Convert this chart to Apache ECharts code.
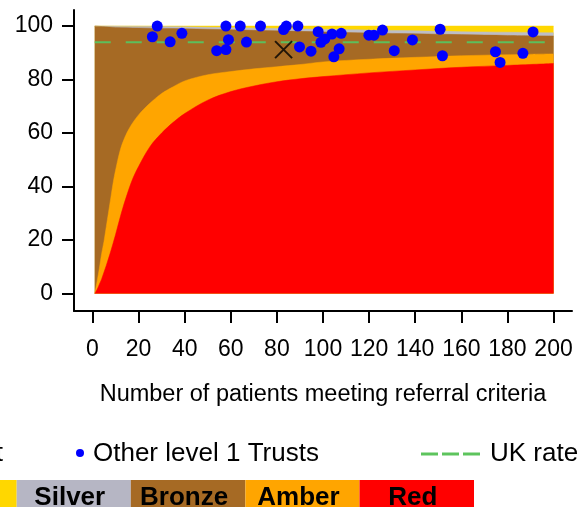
<!DOCTYPE html>
<html><head><meta charset="utf-8">
<script src="https://cdn.jsdelivr.net/npm/echarts@6/dist/echarts.min.js"></script>
<style>html,body{margin:0;padding:0;background:#fff}#c{width:579px;height:507px}</style>
</head><body><div id="c"></div>
<script>
// Axis ticks
const xTicks = [0,20,40,60,80,100,120,140,160,180,200];
const yTicks = [0,20,40,60,80,100];

// Band upper boundaries (x = number of patients, y = %)
const goldX   = [1, 200];
const goldTop = [100, 100];
const silverX   = [1, 20, 40, 60, 80, 100, 120, 140, 160, 180, 200];
const silverTop = [100, 99.9, 99.7, 99.4, 99.1, 98.8, 98.5, 98.2, 97.9, 97.7, 97.5];
const bronzeX   = [1, 10, 20, 40, 60, 80, 100, 120, 140, 160, 180, 200];
const bronzeTop = [100, 99.5, 99.3, 99.0, 98.6, 98.2, 97.8, 97.4, 97.1, 96.8, 96.5, 96.3];
const amberX   = [1, 2, 3, 4, 5, 6, 7, 8, 9, 10, 12, 14, 16, 18, 20, 22, 25, 30, 35, 40, 50, 60, 70, 80, 90, 100, 120, 140, 160, 180, 200];
const amberTop = [0, 4.5, 9.5, 15, 19.5, 25, 30.5, 36, 41.5, 46, 53.5, 58.3, 61.8, 64.5, 66.8, 68.7, 71.2, 74.8, 77.3, 79.5, 81.8, 83, 84, 84.8, 85.6, 86.6, 87.6, 88.3, 88.9, 89.3, 89.6];
const redX   = [1, 2, 3, 4, 5, 6, 8, 10, 12.5, 15, 17.5, 20, 25, 30, 35, 40, 50, 60, 70, 80, 90, 100, 120, 140, 160, 180, 200];
const redTop = [0, 1.5, 3.5, 5.5, 8, 10.5, 16, 22, 30, 37, 43, 47.5, 55, 60, 64, 67.3, 72.3, 75.5, 77.6, 79.2, 80.3, 81.1, 82.5, 83.6, 84.6, 85.3, 86];

// UK rate
const ukRate = 93.9;
const ukX = [1, 200];

// Other level 1 Trusts
const trustN = [26.0, 28.1, 33.7, 38.8, 53.9, 57.9, 57.9, 59.0, 64.1, 66.8, 72.9, 82.9, 84.1, 89.1, 89.8, 94.8, 97.9, 99.1, 100.8, 103.9, 107.9, 107.0, 104.7, 119.9, 122.1, 125.8, 130.9, 138.8, 150.8, 151.8, 174.8, 176.8, 186.7, 191.1];
const trustV = [96.0, 100.0, 94.1, 97.3, 90.8, 91.2, 100.0, 94.9, 100.0, 94.0, 100.0, 98.7, 100.0, 100.0, 92.2, 90.6, 97.9, 93.9, 95.2, 97.0, 97.3, 91.5, 88.5, 96.6, 96.6, 98.5, 90.8, 94.8, 98.8, 88.9, 90.4, 86.4, 89.8, 97.8];

// This Trust
const thisN = [82.9];
const thisV = [91.2];

// Legend labels
const bandNames = ['Gold', 'Silver', 'Bronze', 'Amber', 'Red'];
const bandColors = ['#FFD700', '#B6B6C4', '#A66A24', '#FFA500', '#FF0000'];

const zip = (xs, ys) => xs.map((x, i) => [x, ys[i]]);
const FONT = 'Liberation Sans, Arial, sans-serif';

function band(name, xs, ys, color) {
  return {
    name, type: 'line', data: zip(xs, ys), symbol: 'none', showSymbol: false, smooth: 0.35,
    lineStyle: { width: 0.5, color }, itemStyle: { color },
    areaStyle: { color, opacity: 1 }, silent: true, animation: false
  };
}

const chart = echarts.init(document.getElementById('c'), null, { renderer: 'canvas' });

const graphics = [];
// Row 1 legend
graphics.push({ type: 'text', x: 3, y: 454, style: { text: 'This Trust', font: '26px ' + FONT, fill: '#000', align: 'right', verticalAlign: 'middle' } });
graphics.push({ type: 'circle', shape: { cx: 80, cy: 453, r: 4 }, style: { fill: '#0000FF' } });
graphics.push({ type: 'text', x: 93, y: 454, style: { text: 'Other level 1 Trusts', font: '26px ' + FONT, fill: '#000', align: 'left', verticalAlign: 'middle' } });
[[421, 438], [442, 459], [463, 480]].forEach(s => {
  graphics.push({ type: 'line', shape: { x1: s[0], y1: 454, x2: s[1], y2: 454 }, style: { stroke: '#5DC45D', lineWidth: 3 } });
});
graphics.push({ type: 'text', x: 490, y: 454, style: { text: 'UK rate', font: '26px ' + FONT, fill: '#000', align: 'left', verticalAlign: 'middle' } });
// Row 2 legend boxes
const boxEdges = [-97, 16.7, 130.8, 245.4, 359.5, 474];
bandNames.forEach((nm, i) => {
  const x0 = boxEdges[i], x1 = boxEdges[i + 1];
  graphics.push({ type: 'rect', shape: { x: x0, y: 480, width: x1 - x0, height: 40 }, style: { fill: bandColors[i] } });
  graphics.push({ type: 'text', x: (x0 + x1) / 2 - 4, y: 498, style: { text: nm, font: 'bold 26px ' + FONT, fill: '#000', align: 'center', verticalAlign: 'middle' } });
});

chart.setOption({
  animation: false,
  backgroundColor: '#fff',
  grid: { left: 74, top: 10, width: 498, height: 301, containLabel: false },
  xAxis: {
    type: 'value', min: -8, max: 208,
    axisLine: { show: true, onZero: false, lineStyle: { color: '#000', width: 2 } },
    axisTick: { show: true, length: 12, lineStyle: { color: '#000', width: 2 }, customValues: xTicks },
    axisLabel: { customValues: xTicks, fontSize: 23, color: '#000', margin: 27, fontFamily: FONT },
    splitLine: { show: false },
    name: 'Number of patients meeting referral criteria', nameLocation: 'middle', nameGap: 72,
    nameTextStyle: { fontSize: 23.5, color: '#000', fontFamily: FONT, verticalAlign: 'top' }
  },
  yAxis: {
    type: 'value', min: -6.5, max: 106,
    axisLine: { show: true, onZero: false, lineStyle: { color: '#000', width: 2 } },
    axisTick: { show: true, length: 12, lineStyle: { color: '#000', width: 2 }, customValues: yTicks },
    axisLabel: { customValues: yTicks, fontSize: 23, color: '#000', margin: 21, fontFamily: FONT },
    splitLine: { show: false }
  },
  series: [
    band('Gold', goldX, goldTop, bandColors[0]),
    band('Silver', silverX, silverTop, '#BDBDC6'),
    band('Bronze', bronzeX, bronzeTop, bandColors[2]),
    band('Amber', amberX, amberTop, bandColors[3]),
    band('Red', redX, redTop, bandColors[4]),
    {
      name: 'UK rate', type: 'line', data: ukX.map(x => [x, ukRate]), symbol: 'none',
      lineStyle: { color: '#5CBF5C', width: 2, type: [16, 15] }, z: 3, silent: true
    },
    {
      name: 'Other level 1 Trusts', type: 'scatter', data: zip(trustN, trustV), symbol: 'circle', symbolSize: 11,
      itemStyle: { color: '#0000FF', opacity: 1 }, z: 5, silent: true
    },
    {
      name: 'This Trust', type: 'scatter', data: zip(thisN, thisV),
      symbol: 'path://M0,0L10,10M10,0L0,10', symbolSize: 17,
      itemStyle: { color: 'rgba(0,0,0,0)', borderColor: '#000', borderWidth: 2 }, z: 4, silent: true
    }
  ],
  graphic: graphics
});
</script></body></html>
